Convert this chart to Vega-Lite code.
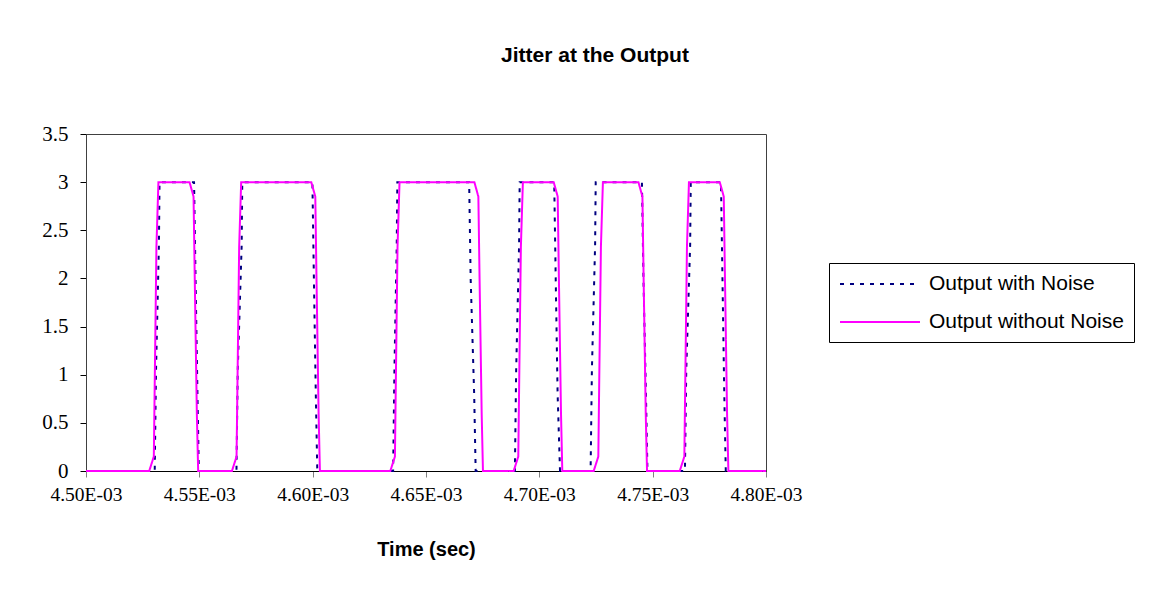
{
  "$schema": "https://vega.github.io/schema/vega-lite/v6.json",
  "autosize": "none",
  "width": 680,
  "height": 337,
  "padding": {"left": 86, "top": 134, "right": 387, "bottom": 132},
  "background": "white",
  "title": {
    "text": "Jitter at the Output",
    "font": "Liberation Sans",
    "fontSize": 21,
    "fontWeight": "bold",
    "color": "black",
    "anchor": "middle",
    "dx": 169,
    "offset": 57
  },
  "config": {
    "view": {"stroke": "#404040", "strokeWidth": 1},
    "legend": {
      "orient": "none",
      "legendX": 743,
      "legendY": 129,
      "strokeColor": "black",
      "fillColor": "white",
      "padding": 10,
      "labelFont": "Liberation Sans",
      "labelFontSize": 21,
      "labelColor": "black",
      "labelOffset": 68,
      "labelLimit": 400,
      "symbolType": "M-1,0H7",
      "symbolSize": 400,
      "symbolStrokeWidth": 2,
      "rowPadding": 17,
      "title": null
    }
  },
  "data": {
    "values": [
      {"time": 0.0045, "value": 0, "series": "Output with Noise"},
      {"time": 0.00453032, "value": 0, "series": "Output with Noise"},
      {"time": 0.0045309, "value": 1.05, "series": "Output with Noise"},
      {"time": 0.00453218, "value": 2.35, "series": "Output with Noise"},
      {"time": 0.00453244, "value": 3, "series": "Output with Noise"},
      {"time": 0.00454767, "value": 3, "series": "Output with Noise"},
      {"time": 0.00454833, "value": 2, "series": "Output with Noise"},
      {"time": 0.00454917, "value": 0.8, "series": "Output with Noise"},
      {"time": 0.00454979, "value": 0, "series": "Output with Noise"},
      {"time": 0.00456638, "value": 0, "series": "Output with Noise"},
      {"time": 0.00456695, "value": 1.05, "series": "Output with Noise"},
      {"time": 0.00456868, "value": 2.35, "series": "Output with Noise"},
      {"time": 0.00456894, "value": 3, "series": "Output with Noise"},
      {"time": 0.00459988, "value": 3, "series": "Output with Noise"},
      {"time": 0.00460054, "value": 2, "series": "Output with Noise"},
      {"time": 0.00460138, "value": 0.8, "series": "Output with Noise"},
      {"time": 0.00460204, "value": 0, "series": "Output with Noise"},
      {"time": 0.0046355, "value": 0, "series": "Output with Noise"},
      {"time": 0.00463607, "value": 1.05, "series": "Output with Noise"},
      {"time": 0.00463709, "value": 2.35, "series": "Output with Noise"},
      {"time": 0.00463735, "value": 3, "series": "Output with Noise"},
      {"time": 0.00466904, "value": 3, "series": "Output with Noise"},
      {"time": 0.0046697, "value": 2, "series": "Output with Noise"},
      {"time": 0.00467125, "value": 0.8, "series": "Output with Noise"},
      {"time": 0.00467191, "value": 0, "series": "Output with Noise"},
      {"time": 0.00468921, "value": 0, "series": "Output with Noise"},
      {"time": 0.00468978, "value": 1.05, "series": "Output with Noise"},
      {"time": 0.00469107, "value": 2.35, "series": "Output with Noise"},
      {"time": 0.00469133, "value": 3, "series": "Output with Noise"},
      {"time": 0.00470656, "value": 3, "series": "Output with Noise"},
      {"time": 0.00470722, "value": 2, "series": "Output with Noise"},
      {"time": 0.00470806, "value": 0.8, "series": "Output with Noise"},
      {"time": 0.00470912, "value": 0, "series": "Output with Noise"},
      {"time": 0.00472262, "value": 0, "series": "Output with Noise"},
      {"time": 0.00472319, "value": 1.05, "series": "Output with Noise"},
      {"time": 0.00472461, "value": 2.35, "series": "Output with Noise"},
      {"time": 0.00472487, "value": 3, "series": "Output with Noise"},
      {"time": 0.00474526, "value": 3, "series": "Output with Noise"},
      {"time": 0.00474593, "value": 2, "series": "Output with Noise"},
      {"time": 0.00474703, "value": 0.8, "series": "Output with Noise"},
      {"time": 0.0047477, "value": 0, "series": "Output with Noise"},
      {"time": 0.00476424, "value": 0, "series": "Output with Noise"},
      {"time": 0.00476482, "value": 1.05, "series": "Output with Noise"},
      {"time": 0.00476654, "value": 2.35, "series": "Output with Noise"},
      {"time": 0.0047668, "value": 3, "series": "Output with Noise"},
      {"time": 0.00478013, "value": 3, "series": "Output with Noise"},
      {"time": 0.00478079, "value": 2, "series": "Output with Noise"},
      {"time": 0.00478159, "value": 0.8, "series": "Output with Noise"},
      {"time": 0.00478225, "value": 0, "series": "Output with Noise"},
      {"time": 0.0048, "value": 0, "series": "Output with Noise"},
      {"time": 0.0045, "value": 0, "series": "Output without Noise"},
      {"time": 0.00452789, "value": 0, "series": "Output without Noise"},
      {"time": 0.00452992, "value": 0.15, "series": "Output without Noise"},
      {"time": 0.00453037, "value": 1, "series": "Output without Noise"},
      {"time": 0.00453107, "value": 2.33, "series": "Output without Noise"},
      {"time": 0.00453195, "value": 3, "series": "Output without Noise"},
      {"time": 0.00454568, "value": 3, "series": "Output without Noise"},
      {"time": 0.00454745, "value": 2.85, "series": "Output without Noise"},
      {"time": 0.00454798, "value": 2, "series": "Output without Noise"},
      {"time": 0.0045489, "value": 0.6, "series": "Output without Noise"},
      {"time": 0.00454948, "value": 0, "series": "Output without Noise"},
      {"time": 0.00456439, "value": 0, "series": "Output without Noise"},
      {"time": 0.00456642, "value": 0.15, "series": "Output without Noise"},
      {"time": 0.00456687, "value": 1, "series": "Output without Noise"},
      {"time": 0.00456757, "value": 2.33, "series": "Output without Noise"},
      {"time": 0.00456846, "value": 3, "series": "Output without Noise"},
      {"time": 0.00459939, "value": 3, "series": "Output without Noise"},
      {"time": 0.00460116, "value": 2.85, "series": "Output without Noise"},
      {"time": 0.00460169, "value": 2, "series": "Output without Noise"},
      {"time": 0.00460262, "value": 0.6, "series": "Output without Noise"},
      {"time": 0.00460319, "value": 0, "series": "Output without Noise"},
      {"time": 0.00463426, "value": 0, "series": "Output without Noise"},
      {"time": 0.00463629, "value": 0.15, "series": "Output without Noise"},
      {"time": 0.00463673, "value": 1, "series": "Output without Noise"},
      {"time": 0.00463744, "value": 2.33, "series": "Output without Noise"},
      {"time": 0.00463832, "value": 3, "series": "Output without Noise"},
      {"time": 0.00467134, "value": 3, "series": "Output without Noise"},
      {"time": 0.0046731, "value": 2.85, "series": "Output without Noise"},
      {"time": 0.00467363, "value": 2, "series": "Output without Noise"},
      {"time": 0.00467456, "value": 0.6, "series": "Output without Noise"},
      {"time": 0.00467513, "value": 0, "series": "Output without Noise"},
      {"time": 0.00468868, "value": 0, "series": "Output without Noise"},
      {"time": 0.00469071, "value": 0.15, "series": "Output without Noise"},
      {"time": 0.00469115, "value": 1, "series": "Output without Noise"},
      {"time": 0.00469186, "value": 2.33, "series": "Output without Noise"},
      {"time": 0.00469274, "value": 3, "series": "Output without Noise"},
      {"time": 0.00470634, "value": 3, "series": "Output without Noise"},
      {"time": 0.0047081, "value": 2.85, "series": "Output without Noise"},
      {"time": 0.00470863, "value": 2, "series": "Output without Noise"},
      {"time": 0.00470956, "value": 0.6, "series": "Output without Noise"},
      {"time": 0.00471013, "value": 0, "series": "Output without Noise"},
      {"time": 0.00472399, "value": 0, "series": "Output without Noise"},
      {"time": 0.00472602, "value": 0.15, "series": "Output without Noise"},
      {"time": 0.00472646, "value": 1, "series": "Output without Noise"},
      {"time": 0.00472717, "value": 2.33, "series": "Output without Noise"},
      {"time": 0.00472805, "value": 3, "series": "Output without Noise"},
      {"time": 0.00474372, "value": 3, "series": "Output without Noise"},
      {"time": 0.00474548, "value": 2.85, "series": "Output without Noise"},
      {"time": 0.00474601, "value": 2, "series": "Output without Noise"},
      {"time": 0.00474694, "value": 0.6, "series": "Output without Noise"},
      {"time": 0.00474751, "value": 0, "series": "Output without Noise"},
      {"time": 0.00476195, "value": 0, "series": "Output without Noise"},
      {"time": 0.00476398, "value": 0.15, "series": "Output without Noise"},
      {"time": 0.00476442, "value": 1, "series": "Output without Noise"},
      {"time": 0.00476513, "value": 2.33, "series": "Output without Noise"},
      {"time": 0.00476601, "value": 3, "series": "Output without Noise"},
      {"time": 0.0047796, "value": 3, "series": "Output without Noise"},
      {"time": 0.00478137, "value": 2.85, "series": "Output without Noise"},
      {"time": 0.0047819, "value": 2, "series": "Output without Noise"},
      {"time": 0.00478282, "value": 0.6, "series": "Output without Noise"},
      {"time": 0.0047834, "value": 0, "series": "Output without Noise"},
      {"time": 0.0048, "value": 0, "series": "Output without Noise"}
    ]
  },
  "mark": {"type": "line", "strokeWidth": 2, "clip": false},
  "encoding": {
    "x": {
      "field": "time",
      "type": "quantitative",
      "scale": {"domain": [0.0045, 0.0048], "nice": false, "zero": false},
      "axis": {
        "title": "Time (sec)",
        "titleFont": "Liberation Sans",
        "titleFontSize": 20,
        "titleFontWeight": "bold",
        "titleColor": "black",
        "titlePadding": 36,
        "values": [0.0045, 0.00455, 0.0046, 0.00465, 0.0047, 0.00475, 0.0048],
        "labelExpr": "replace(upper(format(datum.value, '.2e')), 'E-3', 'E-03')",
        "labelFont": "Liberation Serif",
        "labelFontSize": 19.5,
        "labelColor": "black",
        "labelPadding": 8,
        "labelFlush": false,
        "labelOverlap": false,
        "domainColor": "black",
        "tickColor": "#808080",
        "tickSize": 6,
        "grid": false
      }
    },
    "y": {
      "field": "value",
      "type": "quantitative",
      "scale": {"domain": [0, 3.5], "nice": false},
      "axis": {
        "title": null,
        "values": [0, 0.5, 1, 1.5, 2, 2.5, 3, 3.5],
        "format": ".1~f",
        "labelFont": "Liberation Serif",
        "labelFontSize": 21,
        "labelColor": "black",
        "labelPadding": 12,
        "labelFlush": false,
        "domainColor": "#404040",
        "tickColor": "black",
        "tickSize": 6,
        "grid": false
      }
    },
    "color": {
      "field": "series",
      "type": "nominal",
      "scale": {"domain": ["Output with Noise", "Output without Noise"], "range": ["#000080", "#FF00FF"]},
      "legend": {"title": null}
    },
    "strokeDash": {
      "field": "series",
      "type": "nominal",
      "scale": {"domain": ["Output with Noise", "Output without Noise"], "range": [[4, 6], [1, 0]]},
      "legend": {"title": null}
    }
  }
}
